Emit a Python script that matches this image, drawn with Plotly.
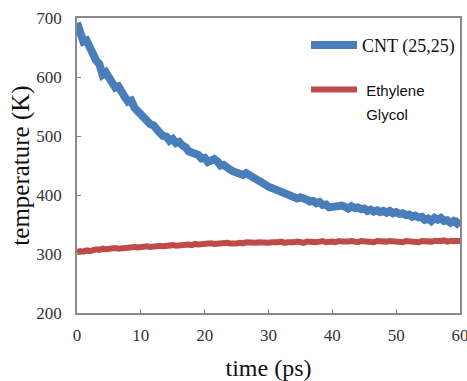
import plotly.graph_objects as go

time_ps = [i * 0.5 for i in range(121)]

cnt_temp = [
    692, 676, 660, 662, 648, 640, 628, 622, 604, 608,
    598, 592, 582, 584, 571, 566, 558, 560, 548, 542,
    538, 530, 528, 520, 518, 508, 505, 500, 499, 492,
    495, 488, 490, 484, 481, 474, 472, 470, 468, 462,
    463, 456, 459, 461, 457, 450, 451, 445, 443, 440,
    438, 436, 434, 437, 433, 428, 426, 424, 421, 416,
    414, 412, 410, 406, 407, 403, 401, 399, 398, 394,
    396, 392, 392, 389, 390, 386, 388, 383, 384, 379,
    380, 378, 379, 382, 380, 377, 381, 378, 379, 376,
    377, 373, 375, 372, 374, 371, 373, 370, 373, 369,
    371, 368, 369, 366, 367, 363, 365, 362, 363, 358,
    360, 356, 361, 358, 361, 356, 357, 353, 356, 352, 358,
]

eg_temp = [
    303, 305, 304, 306, 305, 307, 308, 307, 309, 308,
    309, 308, 310, 309, 310, 311, 310, 311, 312, 311,
    312, 311, 313, 312, 313, 312, 314, 313, 314, 313,
    315, 314, 315, 316, 315, 316, 315, 317, 316, 317,
    316, 317, 318, 317, 318, 317, 318, 319, 318, 317,
    318, 319, 318, 320, 319, 318, 319, 320, 319, 318,
    319, 320, 319, 320, 321, 319, 320, 319, 320, 321,
    320, 319, 321, 320, 321, 320, 321, 322, 320, 321,
    321, 320, 322, 321, 320, 321, 322, 321, 320, 322,
    321, 322, 321, 320, 322, 321, 322, 321, 322, 321,
    322, 321, 320, 322, 321, 322, 321, 320, 322, 321,
    322, 321, 322, 321, 322, 323, 321, 322, 321, 322, 322,
]

x_ticks = [0, 10, 20, 30, 40, 50, 60]
y_ticks = [200, 300, 400, 500, 600, 700]

serif = "Liberation Serif"

fig = go.Figure()
fig.add_trace(go.Scatter(
    x=time_ps, y=cnt_temp, mode="lines", name="CNT (25,25)",
    legendgroup="a",
    line=dict(color="#4A7EBB", width=8),
))
fig.add_trace(go.Scatter(
    x=time_ps, y=eg_temp, mode="lines",
    name="<span style='font-family:Liberation Sans;font-size:15px'> Ethylene<br> Glycol</span>",
    legendgroup="b",
    line=dict(color="#BE4B48", width=6),
))

axis_common = dict(
    showgrid=False, zeroline=False, showline=True, mirror=True,
    linecolor="#8a8a8a", linewidth=1.5,
    ticks="inside", ticklen=4, tickcolor="#8a8a8a", tickwidth=1,
    tickfont=dict(family=serif, size=17, color="#333333"),
    automargin=False, ticklabeloverflow="allow",
)

fig.update_layout(
    width=467, height=381,
    margin=dict(l=77, r=7, t=18, b=68),
    paper_bgcolor="white", plot_bgcolor="white",
    showlegend=True,
    legend=dict(
        x=1.0, y=0.97, xanchor="right", yanchor="top",
        bgcolor="rgba(0,0,0,0)", borderwidth=0,
        font=dict(family=serif, size=18, color="#111111"),
        valign="top", tracegroupgap=18, itemwidth=46,
    ),
    xaxis=dict(
        range=[0, 60], tickvals=x_ticks, ticklabelstandoff=6,
        title=dict(text="time (ps)", font=dict(family=serif, size=24, color="#111111"), standoff=16),
        **axis_common,
    ),
    yaxis=dict(
        range=[200, 700], tickvals=y_ticks, ticklabelstandoff=10,
        title=dict(text="temperature (K)", font=dict(family=serif, size=25, color="#111111"), standoff=0),
        **axis_common,
    ),
)

fig.write_html(
    "out.html",
    config={"displayModeBar": False},
    post_script="document.body.style.margin='0';document.body.style.overflow='hidden';",
)
